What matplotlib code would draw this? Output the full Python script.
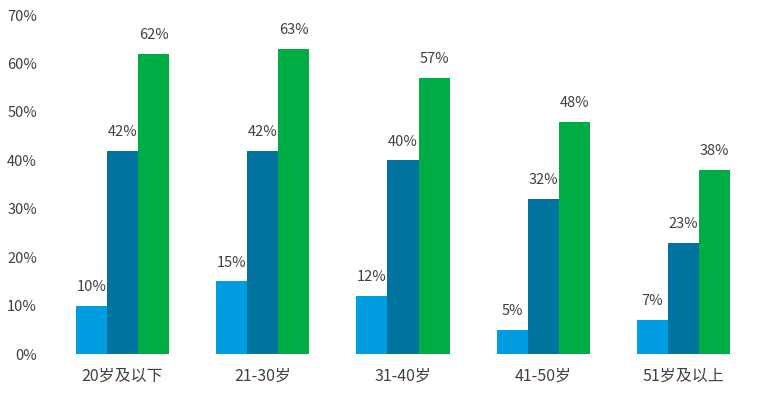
import matplotlib
matplotlib.use("Agg")
import matplotlib.pyplot as plt
import numpy as np

plt.rcParams['font.family'] = ['Noto Sans CJK SC', 'DejaVu Sans']

# --- dados ---
categorias = ['20岁及以下', '21-30岁', '31-40岁', '41-50岁', '51岁及以上']
serie_a = [10, 15, 12, 5, 7]
serie_b = [42, 42, 40, 32, 23]
serie_c = [62, 63, 57, 48, 38]
ticks_y = [0, 10, 20, 30, 40, 50, 60, 70]

cores = ['#009ee0', '#00739e', '#00ad45']
cor_texto = '#404040'

fig = plt.figure(figsize=(7.69, 3.96), dpi=100)
ax = fig.add_axes([0.068, 0.106, 0.912, 0.856])

x = np.arange(len(categorias))
larg = 0.222
for i, (vals, cor) in enumerate(zip([serie_a, serie_b, serie_c], cores)):
    pos = x + (i - 1) * larg
    ax.bar(pos, vals, width=larg, color=cor, zorder=2)
    for xp, v in zip(pos, vals):
        ax.annotate(f'{v}%', (xp, v), xytext=(0, 8.5), textcoords='offset points',
                    ha='center', va='bottom', fontsize=10.5, color=cor_texto)

ax.set_xlim(-0.5, len(categorias) - 0.5)
ax.set_ylim(0, 70)
ax.set_yticks(ticks_y)
ax.set_yticklabels([f'{t}%' for t in ticks_y])
ax.set_xticks(x)
ax.set_xticklabels(categorias)
ax.tick_params(axis='y', length=0, labelsize=10.5, colors=cor_texto, pad=11)
ax.tick_params(axis='x', length=0, labelsize=11.5, colors=cor_texto, pad=10)
for s in ax.spines.values():
    s.set_visible(False)

fig.savefig('out.png', dpi=100)
